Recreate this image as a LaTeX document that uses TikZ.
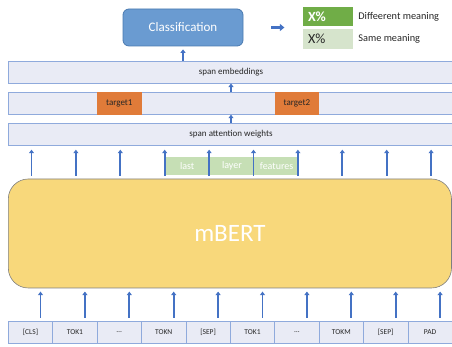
\documentclass[tikz,border=0pt]{standalone}
\usepackage{fontspec}
\setmainfont{Carlito}
\usepackage{xcolor}
\usetikzlibrary{arrows.meta, positioning, shapes}

\definecolor{barfill}{HTML}{E9EBF5}
\definecolor{barline}{HTML}{8FAADC}
\definecolor{arrowblue}{HTML}{4472C4}
\definecolor{clsfill}{HTML}{6A9BD1}
\definecolor{clsline}{HTML}{4A7AB0}
\definecolor{bertfill}{HTML}{F8D87B}
\definecolor{bertline}{HTML}{7F7F7F}
\definecolor{targetfill}{HTML}{E07B39}
\definecolor{darkgreen}{HTML}{70AD47}
\definecolor{lightgreen}{HTML}{D6E4CC}
\definecolor{featgreen}{HTML}{C6DFB5}
\definecolor{labeltext}{HTML}{262626}

\newcommand{\tokdots}{\ldots}

\tikzset{
  bar/.style={draw=barline, line width=0.8pt, fill=barfill, inner sep=0pt,
    minimum width=445.4pt, minimum height=22pt, text=labeltext,
    font=\fontsize{9}{10}\selectfont},
  tok/.style={bar, minimum width=44.4pt, font=\fontsize{7.5}{9}\selectfont},
  target/.style={fill=targetfill, inner sep=0pt, minimum width=44.6pt,
    minimum height=22.8pt, text=labeltext, font=\fontsize{9}{10}\selectfont},
  feat/.style={fill=featgreen, inner sep=0pt, minimum width=44.3pt,
    minimum height=18pt, text=white, font=\fontsize{10}{12}\selectfont},
  legendbox/.style={inner sep=0pt, inner xsep=5pt, text width=40pt, align=left,
    minimum height=19.5pt, font=\fontsize{14}{16}\selectfont},
  legendlabel/.style={anchor=west, inner sep=0pt, text=labeltext,
    font=\fontsize{10.3}{12}\selectfont},
  uparrow/.style={-{Triangle[width=5pt,length=3.5pt]}, line width=1.8pt, draw=arrowblue},
  fatarrow/.style={-{Triangle[width=7pt,length=4.5pt]}, line width=2.8pt, draw=arrowblue},
}

\begin{document}
\begin{tikzpicture}[x=1pt, y=1pt]
    \useasboundingbox (0,0) rectangle (452,347);

    % Input tokens
    \foreach \lbl [count=\i] in {[CLS],TOK1,\tokdots,TOKN,[SEP],TOK1,\tokdots,TOKM,[SEP],PAD} {
      \node[tok] (tok\i) at ({8.3+44.4*(\i-0.5)},15) {\lbl};
    }

    % The encoder
    \node[draw=bertline, line width=0.6pt, fill=bertfill, rounded corners=20pt,
      minimum width=443.2pt, minimum height=109pt, text=white,
      font=\fontsize{25}{30}\selectfont] (bert) at (229.9,113.5) {mBERT};

    % Span layers
    \node[bar] (attn) at (231,212.85) {span attention weights};
    \node[bar] (tgtbar) at (231,243.7) {};
    \node[target] (tgt1) at (tok3 |- tgtbar) {target1};
    \node[target] (tgt2) at (tok7 |- tgtbar) {target2};
    \node[bar] (emb) at (231,274.85) {span embeddings};

    % Last layer features
    \node[feat] (feat1) at (187.2,181) {last};
    \node[feat, right=0pt of feat1] (feat2) {layer};
    \node[feat, right=0pt of feat2] (feat3) {features};

    % Classification and its outputs
    \node[draw=clsline, line width=0.8pt, fill=clsfill, rounded corners=6pt,
      minimum width=120pt, minimum height=37pt, text=white,
      font=\fontsize{13}{15}\selectfont] (cls) at (183,319.5) {Classification};
    \node[legendbox, fill=darkgreen, text=white] (diff) at (328,330.5) {\bfseries X\%};
    \node[legendbox, fill=lightgreen, text=labeltext, below=2.5pt of diff] (same) {X\%};
    \node[legendlabel] (difflbl) at ([xshift=5pt]diff.east) {Diffeerent meaning};
    \node[legendlabel] (samelbl) at ([xshift=5pt]same.east) {Same meaning};

    % Arrows
    \foreach \i in {1,...,10} {
      \draw[uparrow] (tok\i.north) ++(10pt,3pt) -- ++(0,26pt);
      \draw[uparrow] (bert.north -| tok\i.north) ++(1pt,3pt) -- ++(0,26pt);
    }
    \draw[uparrow] (attn.north) -- (tgtbar.south);
    \draw[uparrow] (tgtbar.north) -- (emb.south);
    \draw[uparrow] (emb.north -| cls.south) -- ([yshift=-3pt]cls.south);
    \draw[fatarrow] ([xshift=28pt]cls.east) -- ([xshift=41pt]cls.east);

\end{tikzpicture}
\end{document}
